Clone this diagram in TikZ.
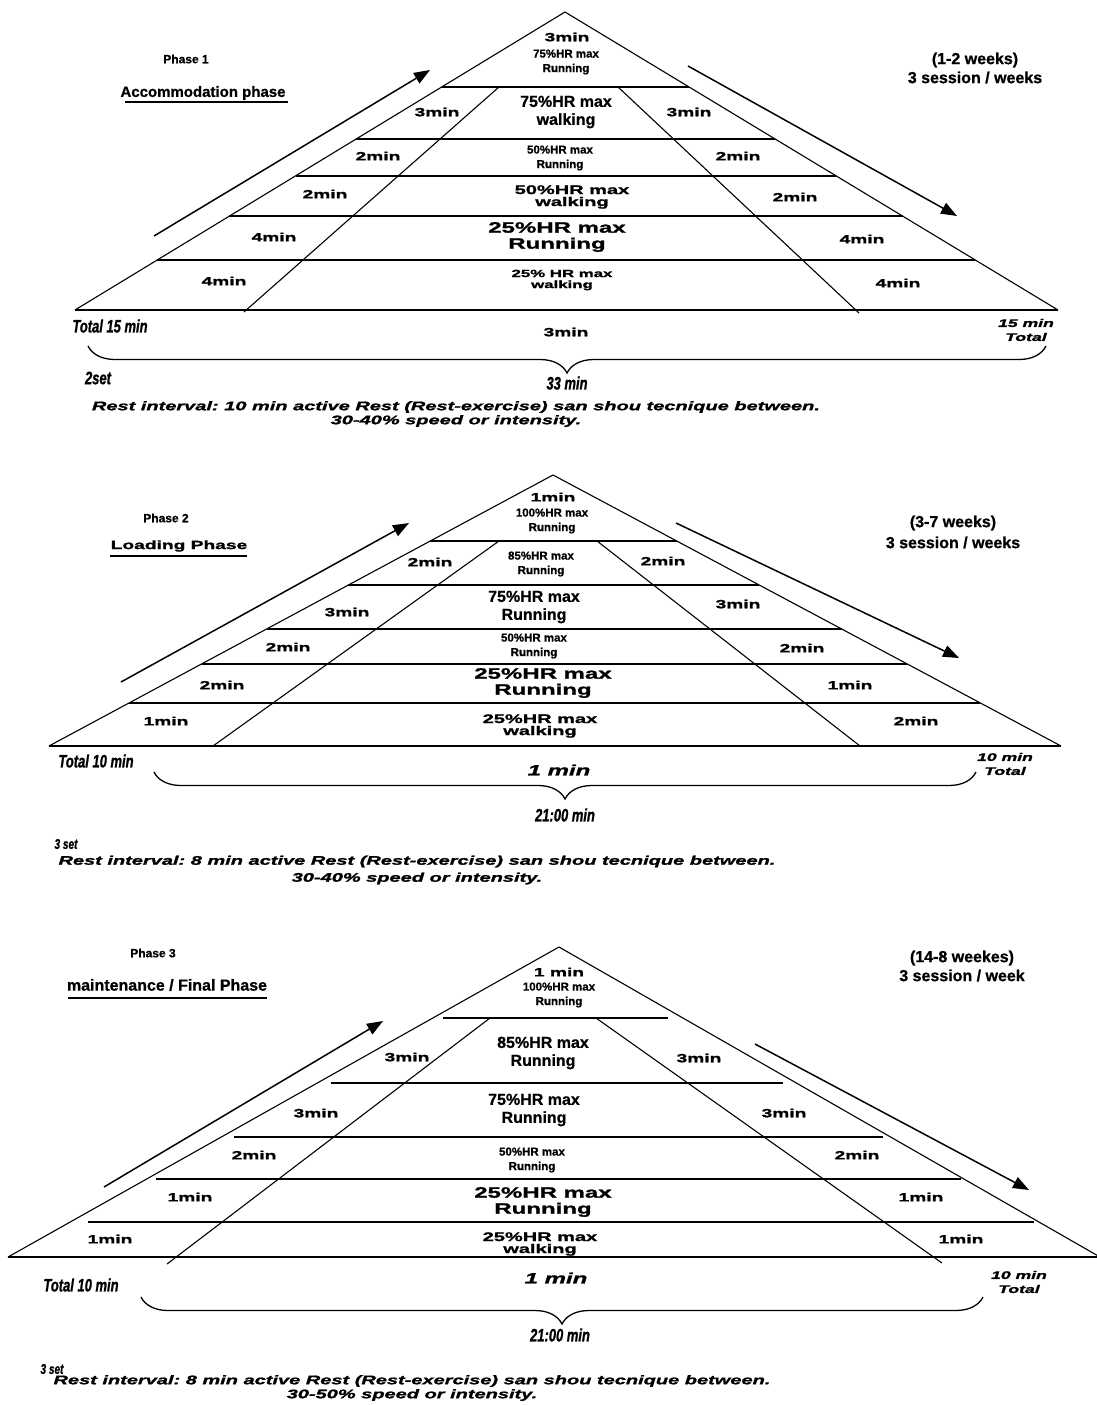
\documentclass[tikz,border=0pt]{standalone}
\usepackage{fontspec}
\setmainfont[FakeBold=0.8]{Liberation Sans}
\newfontfamily\widefont[FakeStretch=1.6,FakeBold=1.5]{Liberation Sans}
\newfontfamily\slimfont[FakeStretch=0.72,FakeBold=1]{Liberation Sans}
\usetikzlibrary{calc,arrows.meta,decorations.pathreplacing}
\frenchspacing

\begin{document}
\begin{tikzpicture}[x=1pt,y=-1pt,
	mn/.style={font=\widefont\bfseries\fontsize{12}{14}\selectfont,inner sep=0pt},
	sz/.style={font=\bfseries\fontsize{11.5}{14.5}\selectfont,align=center,inner sep=0pt},
	bz/.style={font=\bfseries\fontsize{16}{18}\selectfont,align=center,inner sep=0pt},
	wz/.style={font=\widefont\bfseries\fontsize{12.5}{12}\selectfont,align=center,inner sep=0pt},
	wzb/.style={font=\widefont\bfseries\fontsize{15}{16}\selectfont,align=center,inner sep=0pt},
	hd/.style={font=\bfseries\fontsize{16}{19}\selectfont,align=center,inner sep=0pt},
	tt/.style={font=\slimfont\bfseries\itshape\fontsize{18}{20}\selectfont,inner sep=0pt},
	ti/.style={font=\widefont\bfseries\itshape\fontsize{11}{14}\selectfont,align=center,inner sep=0pt},
	rs/.style={font=\widefont\bfseries\itshape\fontsize{12.5}{14}\selectfont,align=center,inner sep=0pt},
	hl/.style={line width=1.8pt},
	sl/.style={line width=1.1pt},
	ar/.style={line width=1.5pt,-{Triangle[length=16pt,width=12pt]}},
	br/.style={line width=1.3pt,decorate,decoration={brace,mirror,amplitude=27pt}}]
\useasboundingbox[fill=white] (0,0) rectangle (1096,1405);

% phase 1
\coordinate (t1) at (565,12);
\coordinate (l1) at (75,310);
\coordinate (r1) at (1058,310);
\draw[sl] (l1) -- (t1) -- (r1);
\draw[hl] (l1) -- (r1);
\draw[hl] ($(t1)!0.252!(l1)$) -- ($(t1)!0.252!(r1)$);
\draw[hl] ($(t1)!0.426!(l1)$) -- ($(t1)!0.426!(r1)$);
\draw[hl] ($(t1)!0.550!(l1)$) -- ($(t1)!0.550!(r1)$);
\draw[hl] ($(t1)!0.685!(l1)$) -- ($(t1)!0.685!(r1)$);
\draw[hl] ($(t1)!0.832!(l1)$) -- ($(t1)!0.832!(r1)$);
\coordinate (a1) at (499,87);
\coordinate (b1) at (244,312);
\coordinate (c1) at (618,87);
\coordinate (d1) at (859,313);
\draw[sl] (a1) -- (b1);
\draw[sl] (c1) -- (d1);
\coordinate (u1) at (154,236);
\coordinate (v1) at (430,70);
\coordinate (w1) at (688,66);
\coordinate (z1) at (957,216);
\draw[ar] (u1) -- (v1);
\draw[ar] (w1) -- (z1);

\node[font=\bfseries\fontsize{12}{14}\selectfont] (p1ph) at (186,59) {Phase 1};
\node[hd,font=\bfseries\fontsize{15}{17}\selectfont] (p1name) at (203,93) {Accommodation phase};
\coordinate (p1u) at (125,102);
\coordinate (p1v) at (288,102);
\draw[line width=1.3pt] (p1u) -- (p1v);
\node[hd] (p1wk) at (975,68) {(1-2 weeks)\\3 session / weeks};

\node[mn] (p1top) at (567,37) {3min};
\node[sz] (p1topz) at (566,62) {75\%HR max\\Running};
\node[mn] (p1l1) at (437,112) {3min};
\node[bz] (p1c1) at (566,112) {75\%HR max\\walking};
\node[mn] (p1r1) at (689,112) {3min};
\node[mn] (p1l2) at (378,156) {2min};
\node[sz] (p1c2) at (560,158) {50\%HR max\\Running};
\node[mn] (p1r2) at (738,156) {2min};
\node[mn] (p1l3) at (325,194) {2min};
\node[wz] (p1c3) at (572,197) {50\%HR max\\walking};
\node[mn] (p1r3) at (795,197) {2min};
\node[mn] (p1l4) at (274,237) {4min};
\node[wzb] (p1c4) at (557,237) {25\%HR max\\Running};
\node[mn] (p1r4) at (862,239) {4min};
\node[mn] (p1l5) at (224,281) {4min};
\node[wz,font=\widefont\bfseries\fontsize{10.5}{11}\selectfont] (p1c5) at (562,280) {25\% HR max\\walking};
\node[mn] (p1r5) at (898,283) {4min};

\node[tt] (p1tot) at (110,326) {Total 15 min};
\node[mn] (p1mid) at (566,332) {3min};
\node[ti] (p1totr) at (1026,330) {15 min\\Total};
\coordinate (s1) at (88,346);
\coordinate (e1) at (1046,346);
\draw[br] (s1) -- (e1);
\node[tt] (p1set) at (98,378) {2set};
\node[tt] (p1sum) at (567,383) {33 min};
\node[rs] (p1rest) at (456,414) {Rest interval: 10 min active Rest (Rest-exercise) san shou tecnique between.\\30-40\% speed or intensity.};

% phase 2
\coordinate (t2) at (553,475);
\coordinate (l2) at (49,746);
\coordinate (r2) at (1061,746);
\draw[sl] (l2) -- (t2) -- (r2);
\draw[hl] (l2) -- (r2);
\draw[hl] ($(t2)!0.2435!(l2)$) -- ($(t2)!0.2435!(r2)$);
\draw[hl] ($(t2)!0.406!(l2)$) -- ($(t2)!0.406!(r2)$);
\draw[hl] ($(t2)!0.568!(l2)$) -- ($(t2)!0.568!(r2)$);
\draw[hl] ($(t2)!0.697!(l2)$) -- ($(t2)!0.697!(r2)$);
\draw[hl] ($(t2)!0.841!(l2)$) -- ($(t2)!0.841!(r2)$);
\coordinate (a2) at (499,541);
\coordinate (b2) at (213,746);
\coordinate (c2) at (597,541);
\coordinate (d2) at (860,746);
\draw[sl] (a2) -- (b2);
\draw[sl] (c2) -- (d2);
\coordinate (u2) at (121,682);
\coordinate (v2) at (409,523);
\coordinate (w2) at (676,523);
\coordinate (z2) at (959,658);
\draw[ar] (u2) -- (v2);
\draw[ar] (w2) -- (z2);

\node[font=\bfseries\fontsize{12}{14}\selectfont] (p2ph) at (166,518) {Phase 2};
\node[mn] (p2name) at (179,546) {Loading Phase};
\coordinate (p2u) at (110,556);
\coordinate (p2v) at (247,556);
\draw[line width=1.3pt] (p2u) -- (p2v);
\node[hd,font=\bfseries\fontsize{16}{21}\selectfont] (p2wk) at (953,532) {(3-7 weeks)\\3 session / weeks};

\node[mn] (p2top) at (553,497) {1min};
\node[sz] (p2topz) at (552,521) {100\%HR max\\Running};
\node[mn] (p2l1) at (430,562) {2min};
\node[sz] (p2c1) at (541,564) {85\%HR max\\Running};
\node[mn] (p2r1) at (663,561) {2min};
\node[mn] (p2l2) at (347,612) {3min};
\node[bz] (p2c2) at (534,607) {75\%HR max\\Running};
\node[mn] (p2r2) at (738,604) {3min};
\node[mn] (p2l3) at (288,647) {2min};
\node[sz] (p2c3) at (534,646) {50\%HR max\\Running};
\node[mn] (p2r3) at (802,648) {2min};
\node[mn] (p2l4) at (222,685) {2min};
\node[wzb] (p2c4) at (543,683) {25\%HR max\\Running};
\node[mn] (p2r4) at (850,685) {1min};
\node[mn] (p2l5) at (166,721) {1min};
\node[wz] (p2c5) at (540,726) {25\%HR max\\walking};
\node[mn] (p2r5) at (916,721) {2min};

\node[tt] (p2tot) at (96,761) {Total 10 min};
\node[ti,font=\widefont\bfseries\itshape\fontsize{15}{16}\selectfont] (p2mid) at (559,770) {1 min};
\node[ti] (p2totr) at (1005,764) {10 min\\Total};
\coordinate (s2) at (154,772);
\coordinate (e2) at (976,772);
\draw[br] (s2) -- (e2);
\node[tt] (p2sum) at (565,815) {21:00 min};
\node[tt,font=\slimfont\bfseries\itshape\fontsize{14}{16}\selectfont] (p2set) at (66,844) {3 set};
\node[rs,font=\widefont\bfseries\itshape\fontsize{12.5}{17}\selectfont] (p2rest) at (417,870) {Rest interval: 8 min active Rest (Rest-exercise) san shou tecnique between.\\30-40\% speed or intensity.};

% phase 3
\coordinate (t3) at (559,947);
\coordinate (l3) at (8,1257);
\coordinate (r3) at (1100,1257);
\draw[sl] (l3) -- (t3) -- (r3);
\draw[hl] (l3) -- (r3);
\coordinate (h1a) at (443,1018);
\coordinate (h1b) at (668,1018);
\coordinate (h2a) at (331,1083);
\coordinate (h2b) at (783,1083);
\coordinate (h3a) at (234,1137);
\coordinate (h3b) at (883,1137);
\coordinate (h4a) at (156,1179);
\coordinate (h4b) at (961,1179);
\coordinate (h5a) at (88,1222);
\coordinate (h5b) at (1034,1222);
\draw[hl] (h1a) -- (h1b);
\draw[hl] (h2a) -- (h2b);
\draw[hl] (h3a) -- (h3b);
\draw[hl] (h4a) -- (h4b);
\draw[hl] (h5a) -- (h5b);
\coordinate (a3) at (490,1018);
\coordinate (b3) at (167,1264);
\coordinate (c3) at (596,1018);
\coordinate (d3) at (942,1263);
\draw[sl] (a3) -- (b3);
\draw[sl] (c3) -- (d3);
\coordinate (u3) at (104,1187);
\coordinate (v3) at (383,1021);
\coordinate (w3) at (755,1044);
\coordinate (z3) at (1029,1190);
\draw[ar] (u3) -- (v3);
\draw[ar] (w3) -- (z3);

\node[font=\bfseries\fontsize{12}{14}\selectfont] (p3ph) at (153,953) {Phase 3};
\node[hd] (p3name) at (167,985) {maintenance / Final Phase};
\coordinate (p3u) at (68,998);
\coordinate (p3v) at (267,998);
\draw[line width=1.3pt] (p3u) -- (p3v);
\node[hd] (p3wk) at (962,966) {(14-8 weekes)\\3 session / week};

\node[mn] (p3top) at (559,972) {1 min};
\node[sz] (p3topz) at (559,995) {100\%HR max\\Running};
\node[mn] (p3l1) at (407,1057) {3min};
\node[bz] (p3c1) at (543,1053) {85\%HR max\\Running};
\node[mn] (p3r1) at (699,1058) {3min};
\node[mn] (p3l2) at (316,1113) {3min};
\node[bz] (p3c2) at (534,1110) {75\%HR max\\Running};
\node[mn] (p3r2) at (784,1113) {3min};
\node[mn] (p3l3) at (254,1155) {2min};
\node[sz] (p3c3) at (532,1160) {50\%HR max\\Running};
\node[mn] (p3r3) at (857,1155) {2min};
\node[mn] (p3l4) at (190,1197) {1min};
\node[wzb] (p3c4) at (543,1202) {25\%HR max\\Running};
\node[mn] (p3r4) at (921,1197) {1min};
\node[mn] (p3l5) at (110,1239) {1min};
\node[wz] (p3c5) at (540,1244) {25\%HR max\\walking};
\node[mn] (p3r5) at (961,1239) {1min};

\node[tt] (p3tot) at (81,1285) {Total 10 min};
\node[ti,font=\widefont\bfseries\itshape\fontsize{15}{16}\selectfont] (p3mid) at (556,1278) {1 min};
\node[ti] (p3totr) at (1019,1282) {10 min\\Total};
\coordinate (s3) at (141,1297);
\coordinate (e3) at (983,1297);
\draw[br] (s3) -- (e3);
\node[tt] (p3sum) at (560,1335) {21:00 min};
\node[tt,font=\slimfont\bfseries\itshape\fontsize{14}{16}\selectfont] (p3set) at (52,1369) {3 set};
\node[rs] (p3rest) at (412,1388) {Rest interval: 8 min active Rest (Rest-exercise) san shou tecnique between.\\30-50\% speed or intensity.};
\end{tikzpicture}
\end{document}
